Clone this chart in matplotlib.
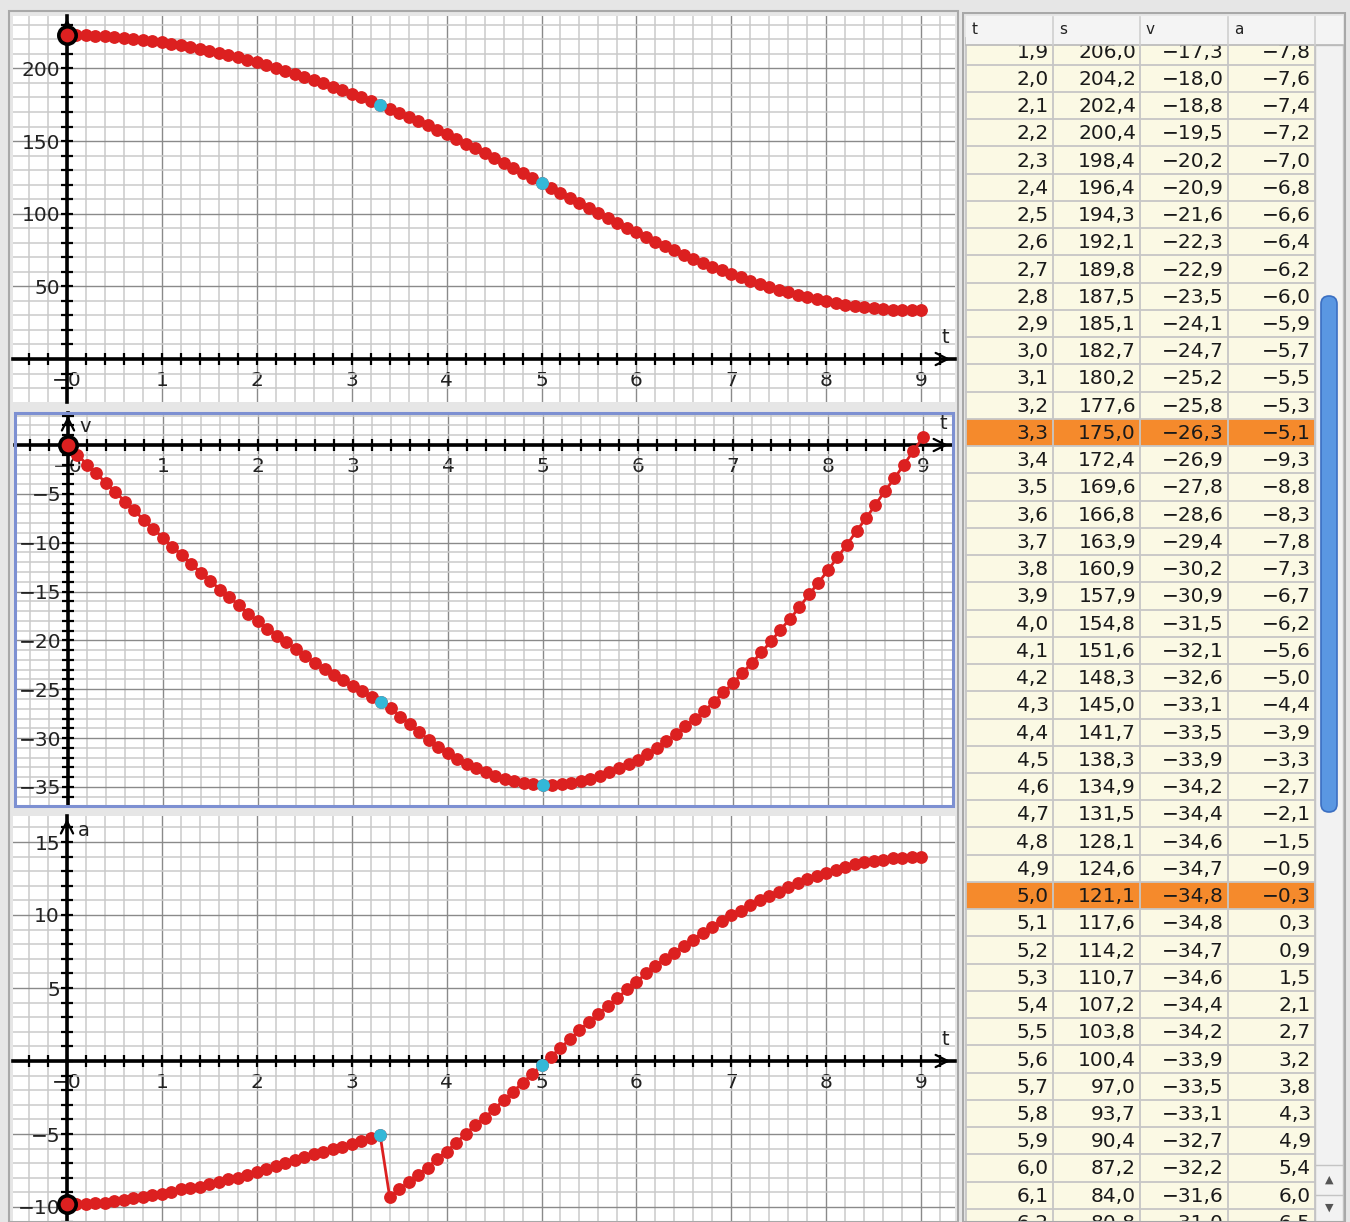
import matplotlib.pyplot as plt
from matplotlib.patches import Rectangle, FancyBboxPatch
from matplotlib.ticker import MultipleLocator, FuncFormatter

# Zeit in Zehntelsekunden
t = [i / 10 for i in range(91)]

# Weg s(t)
s = [222.9, 222.9, 222.7, 222.5, 222.1, 221.7, 221.2, 220.5, 219.8, 219.0,
     218.1, 217.1, 216.0, 214.9, 213.6, 212.2, 210.8, 209.3, 207.7, 206.0,
     204.2, 202.4, 200.4, 198.4, 196.4, 194.3, 192.1, 189.8, 187.5, 185.1,
     182.7, 180.2, 177.6, 175.0, 172.4, 169.6, 166.8, 163.9, 160.9, 157.9,
     154.8, 151.6, 148.3, 145.0, 141.7, 138.3, 134.9, 131.5, 128.1, 124.6,
     121.1, 117.6, 114.2, 110.7, 107.2, 103.8, 100.4, 97.0, 93.7, 90.4,
     87.2, 84.0, 80.8, 77.7, 74.7, 71.8, 69.0, 66.2, 63.5, 61.0,
     58.5, 56.1, 53.8, 51.6, 49.6, 47.6, 45.8, 44.1, 42.5, 41.0,
     39.7, 38.5, 37.4, 36.4, 35.6, 34.9, 34.4, 34.0, 33.7, 33.6, 33.6]

# Geschwindigkeit v(t)
v = [0.0, -1.0, -2.0, -2.9, -3.9, -4.8, -5.8, -6.7, -7.7, -8.6,
     -9.5, -10.4, -11.3, -12.2, -13.1, -13.9, -14.8, -15.6, -16.4, -17.3,
     -18.0, -18.8, -19.5, -20.2, -20.9, -21.6, -22.3, -22.9, -23.5, -24.1,
     -24.7, -25.2, -25.8, -26.3, -26.9, -27.8, -28.6, -29.4, -30.2, -30.9,
     -31.5, -32.1, -32.6, -33.1, -33.5, -33.9, -34.2, -34.4, -34.6, -34.7,
     -34.8, -34.8, -34.7, -34.6, -34.4, -34.2, -33.9, -33.5, -33.1, -32.7,
     -32.2, -31.6, -31.0, -30.3, -29.6, -28.8, -28.0, -27.2, -26.3, -25.3,
     -24.4, -23.3, -22.3, -21.2, -20.1, -18.9, -17.8, -16.6, -15.3, -14.1,
     -12.8, -11.5, -10.2, -8.8, -7.5, -6.1, -4.7, -3.4, -2.0, -0.6, 0.8]

# Beschleunigung a(t)
a = [-9.8, -9.8, -9.8, -9.7, -9.7, -9.6, -9.5, -9.4, -9.3, -9.2,
     -9.1, -9.0, -8.8, -8.7, -8.6, -8.4, -8.3, -8.1, -8.0, -7.8,
     -7.6, -7.4, -7.2, -7.0, -6.8, -6.6, -6.4, -6.2, -6.0, -5.9,
     -5.7, -5.5, -5.3, -5.1, -9.3, -8.8, -8.3, -7.8, -7.3, -6.7,
     -6.2, -5.6, -5.0, -4.4, -3.9, -3.3, -2.7, -2.1, -1.5, -0.9,
     -0.3, 0.3, 0.9, 1.5, 2.1, 2.7, 3.2, 3.8, 4.3, 4.9,
     5.4, 6.0, 6.5, 7.0, 7.4, 7.9, 8.3, 8.8, 9.2, 9.6,
     10.0, 10.3, 10.7, 11.0, 11.3, 11.6, 11.9, 12.2, 12.5, 12.7,
     12.9, 13.1, 13.3, 13.5, 13.6, 13.7, 13.8, 13.9, 13.9, 14.0, 14.0]

markiert = [33, 50]          # Zeilen t=3,3 und t=5,0
tabelle_von, tabelle_bis = 19, 63   # sichtbare Tabellenzeilen

RED = '#dc2020'
CYAN = '#33b8d8'
W, H = 1350, 1222

fig = plt.figure(figsize=(W / 100, H / 100), dpi=100)
fig.patch.set_facecolor('#e6e6e6')


def px_axes(x0, y0, x1, y1):
    return fig.add_axes([x0 / W, 1 - y1 / H, (x1 - x0) / W, (y1 - y0) / H])


def ylabel_fmt(val, pos):
    if abs(val) < 1e-9:
        return ''
    return f'{val:.0f}'.replace('-', '\u2212')


def xlabel_fmt(val, pos):
    if abs(val) < 1e-9:
        return '\u22120'
    return f'{val:.0f}'


def panel(box, t0px, tscale, zero_px, yscale, y, ymaj, ymin, name):
    x0, y0, x1, y1 = box
    ax = px_axes(*box)
    ax.set_facecolor('white')
    ax.set_xlim((x0 - t0px) / tscale, (x1 - t0px) / tscale)
    ax.set_ylim((zero_px - y1) / yscale, (zero_px - y0) / yscale)
    ax.xaxis.set_major_locator(MultipleLocator(1))
    ax.xaxis.set_minor_locator(MultipleLocator(0.2))
    ax.yaxis.set_major_locator(MultipleLocator(ymaj))
    ax.yaxis.set_minor_locator(MultipleLocator(ymin))
    ax.xaxis.set_major_formatter(FuncFormatter(xlabel_fmt))
    ax.yaxis.set_major_formatter(FuncFormatter(ylabel_fmt))
    ax.grid(which='minor', color='#cacaca', lw=1.1)
    ax.grid(which='major', color='#8a8a8a', lw=1.0)
    ax.set_axisbelow(True)
    for sp in ['top', 'right']:
        ax.spines[sp].set_visible(False)
    for sp in ['left', 'bottom']:
        ax.spines[sp].set_position('zero')
        ax.spines[sp].set_linewidth(2.6)
        ax.spines[sp].set_zorder(3)
    ax.tick_params(which='both', direction='inout', length=8, width=1.6,
                   labelsize=14.5, labelcolor='#222222')
    ax.tick_params(axis='x', pad=5)
    ax.tick_params(axis='y', pad=1)

    xmax = ax.get_xlim()[1]
    ymax = ax.get_ylim()[1]
    ax.annotate('', xy=(xmax - 0.02, 0), xytext=(xmax - 0.25, 0),
                arrowprops=dict(arrowstyle='->', lw=1.6, color='k', mutation_scale=22),
                zorder=4)
    ax.annotate('', xy=(0, ymax), xytext=(0, ymax - 20 / yscale),
                arrowprops=dict(arrowstyle='->', lw=1.6, color='k', mutation_scale=22),
                zorder=4)
    ax.annotate('t', xy=(xmax, 0), xytext=(-10, 12), textcoords='offset pixels',
                fontsize=14, color='#222222', ha='center', va='bottom')
    if name:
        ax.annotate(name, xy=(0, ymax), xytext=(11, -14), textcoords='offset pixels',
                    fontsize=14, color='#222222', ha='left', va='center')

    ax.plot(t, y, '-', color=RED, lw=2.0, marker='o', ms=8.2, mec=RED, zorder=5)
    ax.plot([t[i] for i in markiert], [y[i] for i in markiert], 'o',
            color=CYAN, ms=8.2, zorder=6)
    ax.plot(t[0], y[0], 'o', ms=12.5, mfc=RED, mec='black', mew=2.6, zorder=7)
    return ax


panel((13, 16, 955, 402), 67, 94.9, 359, 1.453, s, 50, 10, '')
panel((15, 413, 953, 806), 68, 95.0, 445, 9.77, v, 5, 1, 'v')
panel((13, 816, 955, 1222), 67, 94.9, 1061, 14.6, a, 5, 1, 'a')

# Rahmen um die Grafikfenster
fig.patches.append(Rectangle((15 / W, 1 - 806 / H), 938 / W, 393 / H,
                             transform=fig.transFigure, fill=False,
                             ec='#7d90d2', lw=2.2, zorder=10))
fig.patches.append(Rectangle((9 / W, 0), 949 / W, 1 - 11 / H,
                             transform=fig.transFigure, fill=False,
                             ec='#a8a8a8', lw=1.5, zorder=10))

# Tabelle
tab = px_axes(962, 12, 1348, 1222)
tab.set_xlim(962, 1348)
tab.set_ylim(1222, 12)
tab.axis('off')

col_left = [966, 1052.7, 1140, 1228]
col_right = [1052.7, 1140, 1228, 1315]
rh = 27.24
for k, i in enumerate(range(tabelle_von, tabelle_bis)):
    ytop = 37.5 + k * rh
    fc = '#f58a2c' if i in markiert else '#fbf9e4'
    tab.add_patch(Rectangle((966, ytop), 349, rh, fc=fc, ec='none', zorder=1))
    tab.plot([966, 1315], [ytop + rh, ytop + rh], color='#c6c6c6', lw=1.3, zorder=2)
    for c, val in enumerate([t[i], s[i], v[i], a[i]]):
        txt = f'{val:.1f}'.replace('.', ',').replace('-', '\u2212')
        tab.text(col_right[c] - 4, ytop + rh / 2 + 1, txt, ha='right', va='center',
                 fontsize=14.5, color='#1a1a1a', zorder=3)
for xc in col_left + [1315]:
    tab.plot([xc, xc], [38, 1222], color='#c6c6c6', lw=1.3, zorder=2)

# Kopfzeile
tab.add_patch(Rectangle((966, 16), 377, 29, fc='#f4f4f4', ec='none', zorder=4))
tab.plot([966, 1343], [45, 45], color='#b8b8b8', lw=1.2, zorder=5)
for xc in col_left[1:] + [1315]:
    tab.plot([xc, xc], [17, 45], color='#cfcfcf', lw=1.2, zorder=5)
for c, name in enumerate(['t', 's', 'v', 'a']):
    tab.text(col_left[c] + 6, 30, name, ha='left', va='center', fontsize=11,
             color='#222222', zorder=6)

# Rollbalken
tab.add_patch(Rectangle((1315, 45), 28, 1177, fc='#f2f2f2', ec='#c4c4c4', lw=1, zorder=4))
tab.add_patch(FancyBboxPatch((1321, 296), 16, 516,
                             boxstyle='round,pad=0,rounding_size=8',
                             fc='#5a97e2', ec='#3b6fc2', lw=1.2, zorder=5))
tab.plot([1315, 1343], [1165, 1165], color='#c4c4c4', lw=1, zorder=5)
tab.plot([1315, 1343], [1195, 1195], color='#c4c4c4', lw=1, zorder=5)
tab.text(1329, 1180, '\u25b2', ha='center', va='center', fontsize=8, color='#555555', zorder=6)
tab.text(1329, 1208, '\u25bc', ha='center', va='center', fontsize=8, color='#555555', zorder=6)
tab.add_patch(Rectangle((963, 13), 382, 1209, fill=False, ec='#a8a8a8', lw=1.5, zorder=6))

fig.savefig('out.png', dpi=100, facecolor=fig.get_facecolor())
